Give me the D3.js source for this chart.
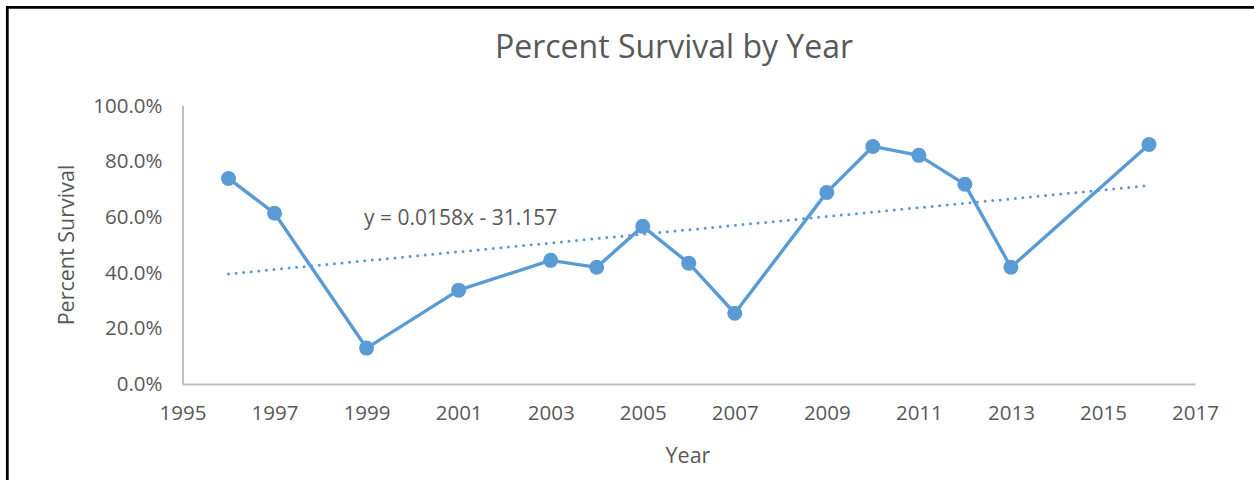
<!DOCTYPE html>
<html>
<head>
<meta charset="utf-8">
<script src="https://cdn.jsdelivr.net/npm/d3@7"></script>
<style>
  html, body { margin: 0; padding: 0; background: #fff; }
  svg { display: block; }
  text { font-family: "Open Sans", sans-serif; fill: #595959; }
</style>
</head>
<body>
<svg id="chart" width="1254" height="480"></svg>
<script>
// ---- data ----
const years = [1996, 1997, 1999, 2001, 2003, 2004, 2005, 2006, 2007, 2009, 2010, 2011, 2012, 2013, 2016];
const survival = [0.738, 0.613, 0.129, 0.337, 0.444, 0.419, 0.566, 0.434, 0.254, 0.688, 0.853, 0.821, 0.717, 0.419, 0.860];
const xTicks = [1995, 1997, 1999, 2001, 2003, 2005, 2007, 2009, 2011, 2013, 2015, 2017];
const yTicks = [0, 0.2, 0.4, 0.6, 0.8, 1.0];
const chartTitle = "Percent Survival by Year";
const xTitle = "Year";
const yTitle = "Percent Survival";
const trendLabel = "y = 0.0158x - 31.157";

// ---- layout ----
const W = 1254, H = 480;
const svg = d3.select("#chart");
const blue = "#5B9BD5";
const axisColor = "#BFBFBF";

const x = d3.scaleLinear().domain([1995, 2017]).range([182.5, 1195]);
const y = d3.scaleLinear().domain([0, 1]).range([384, 105.5]);

// outer frame (top and left edges visible)
svg.append("line").attr("x1", 6).attr("x2", W).attr("y1", 7.3).attr("y2", 7.3)
  .attr("stroke", "#000").attr("stroke-width", 2.8);
svg.append("line").attr("x1", 7.3).attr("x2", 7.3).attr("y1", 6).attr("y2", H)
  .attr("stroke", "#000").attr("stroke-width", 2.8);

// title
svg.append("text").attr("x", 674).attr("y", 58).attr("text-anchor", "middle")
  .style("font-size", "32px").text(chartTitle);

// axes
const xAxis = d3.axisBottom(x).tickValues(xTicks).tickFormat(d3.format("d")).tickSize(0).tickPadding(21);
const gx = svg.append("g").attr("transform", `translate(0,${y(0)})`).call(xAxis);
gx.select(".domain").attr("stroke", axisColor).attr("stroke-width", 2);
gx.selectAll("text").style("font-size", "20.5px").attr("fill", "#595959");

const yAxis = d3.axisLeft(y).tickValues(yTicks).tickFormat(d3.format(".1%")).tickSize(0).tickPadding(20);
const gy = svg.append("g").attr("transform", `translate(${x(1995)},0)`).call(yAxis);
gy.select(".domain").attr("stroke", axisColor).attr("stroke-width", 2);
gy.selectAll("text").style("font-size", "20.5px").attr("fill", "#595959");

// axis titles
svg.append("text").attr("x", 688).attr("y", 463).attr("text-anchor", "middle")
  .style("font-size", "21.5px").text(xTitle);
svg.append("text").attr("transform", "translate(74,245) rotate(-90)").attr("text-anchor", "middle")
  .style("font-size", "21.5px").text(yTitle);

// linear trendline via least squares of the data
const n = years.length;
const mx = d3.mean(years), my = d3.mean(survival);
let sxy = 0, sxx = 0;
for (let i = 0; i < n; i++) { sxy += (years[i] - mx) * (survival[i] - my); sxx += (years[i] - mx) ** 2; }
const slope = sxy / sxx, icpt = my - slope * mx;
const x0 = d3.min(years), x1 = d3.max(years);
svg.append("line")
  .attr("x1", x(x0)).attr("y1", y(slope * x0 + icpt))
  .attr("x2", x(x1)).attr("y2", y(slope * x1 + icpt))
  .attr("stroke", blue).attr("stroke-width", 3)
  .attr("stroke-dasharray", "0,7.6").attr("stroke-linecap", "round");

// trend equation label
svg.append("text").attr("x", 364).attr("y", 225).style("font-size", "21px").text(trendLabel);

// series line
const pts = years.map((yr, i) => [yr, survival[i]]);
svg.append("path").datum(pts)
  .attr("fill", "none").attr("stroke", blue).attr("stroke-width", 3.4)
  .attr("stroke-linejoin", "round")
  .attr("d", d3.line().x(d => x(d[0])).y(d => y(d[1])));

// markers
svg.selectAll("circle.pt").data(pts).enter().append("circle")
  .attr("class", "pt").attr("cx", d => x(d[0])).attr("cy", d => y(d[1])).attr("r", 7.5)
  .attr("fill", blue);
</script>
</body>
</html>
